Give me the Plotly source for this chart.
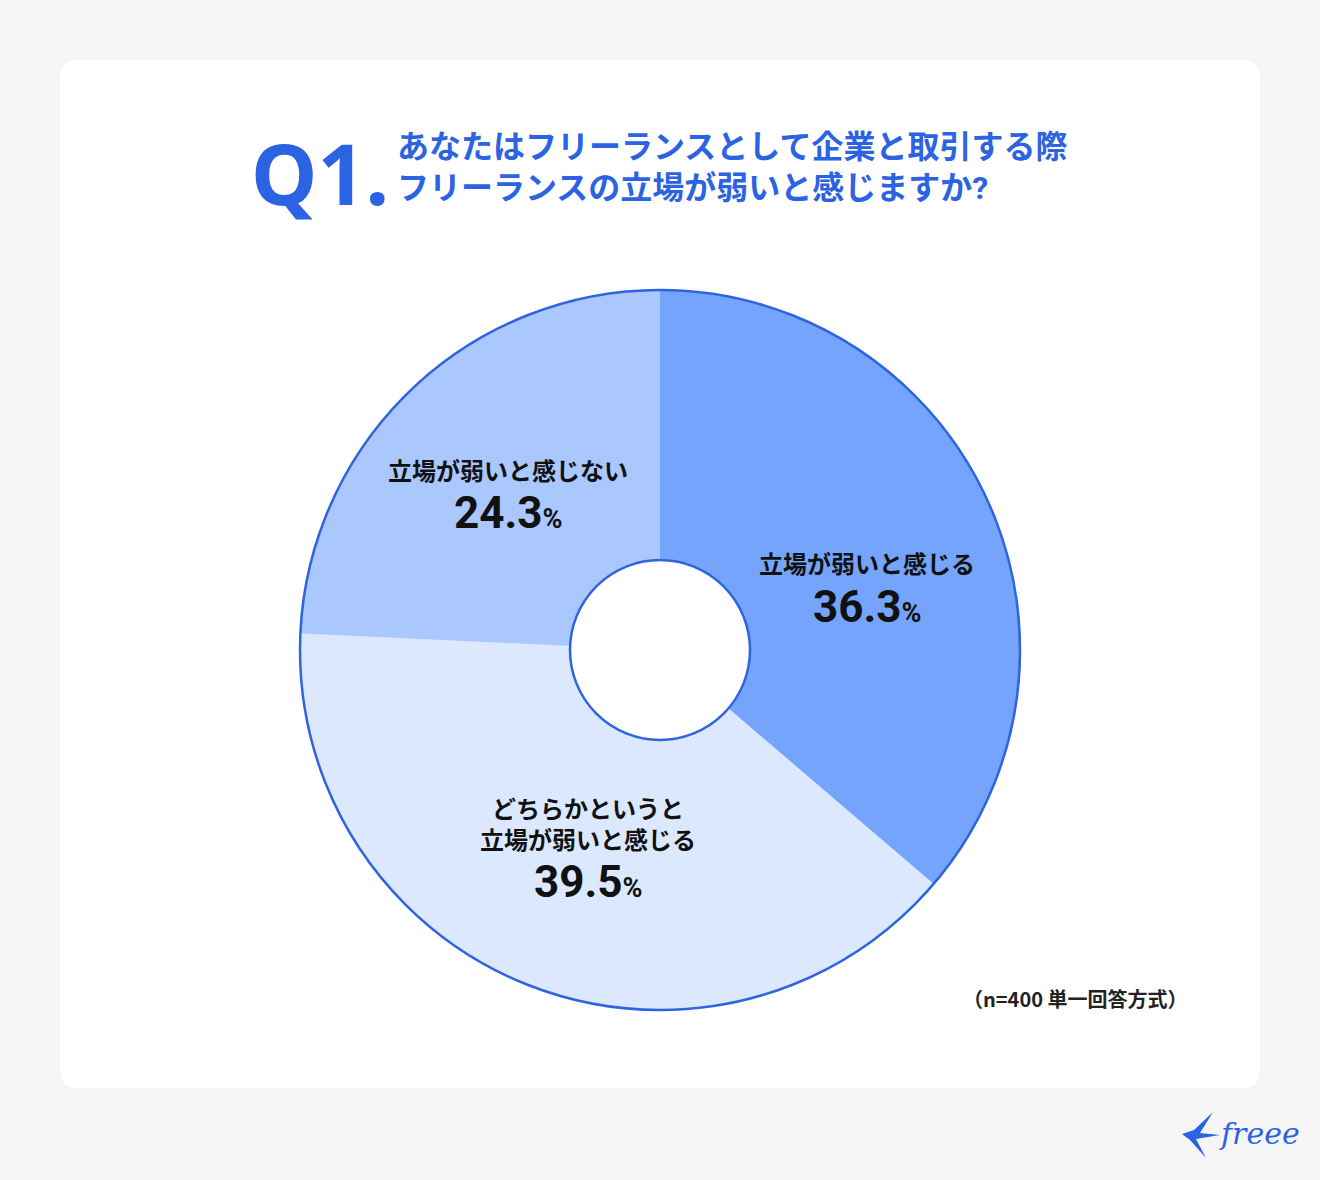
import plotly.graph_objects as go

W, H = 1320, 1180

labels = ["立場が弱いと感じる", "どちらかというと立場が弱いと感じる", "立場が弱いと感じない"]
values = [36.3, 39.5, 24.3]
colors = ["#74A4FC", "#DCE8FE", "#AAC7FE"]
label_lines = [["立場が弱いと感じる"], ["どちらかというと", "立場が弱いと感じる"], ["立場が弱いと感じない"]]
title_lines = ["あなたはフリーランスとして企業と取引する際", "フリーランスの立場が弱いと感じますか?"]
note = "（n=400 単一回答方式）"

BLUE = "#2B63E3"
OUTLINE = "#2F64E0"
FONT = "Noto Sans CJK JP"
TIGHT = "Roboto, 'Noto Sans CJK JP'"


def px(x, y):
    return x / W, 1 - y / H


cx, cy, R = 660, 650, 360
x0, y1 = px(cx - R, cy - R)
x1, y0 = px(cx + R, cy + R)

fig = go.Figure()
fig.add_trace(go.Pie(
    labels=labels, values=values, sort=False, direction="clockwise", rotation=0,
    hole=0.25, marker=dict(colors=colors, line=dict(width=0)),
    textinfo="none", hoverinfo="label+value", showlegend=False,
    domain=dict(x=[x0, x1], y=[y0, y1]),
))

shapes = []


def rounded_rect(l, t, r, b, rad):
    def P(x, y):
        a, c = px(x, y)
        return f"{a:.6f},{c:.6f}"
    return (f"M{P(l+rad,t)} L{P(r-rad,t)} Q{P(r,t)} {P(r,t+rad)} L{P(r,b-rad)} "
            f"Q{P(r,b)} {P(r-rad,b)} L{P(l+rad,b)} Q{P(l,b)} {P(l,b-rad)} "
            f"L{P(l,t+rad)} Q{P(l,t)} {P(l+rad,t)} Z")


shapes.append(dict(type="path", xref="paper", yref="paper", path=rounded_rect(60, 60, 1260, 1088, 18),
                   fillcolor="white", line=dict(width=0), layer="below"))
shapes.append(dict(type="circle", xref="paper", yref="paper", x0=x0, x1=x1, y0=y0, y1=y1,
                   line=dict(color=OUTLINE, width=2.5), layer="above"))
hr = R * 0.25
hx0, hy1 = px(cx - hr, cy - hr)
hx1, hy0 = px(cx + hr, cy + hr)
shapes.append(dict(type="circle", xref="paper", yref="paper", x0=hx0, x1=hx1, y0=hy0, y1=hy1,
                   line=dict(color=OUTLINE, width=2.5), layer="above"))


def poly(points):
    s = ""
    for i, (a, b) in enumerate(points):
        xa, yb = px(a, b)
        s += ("M" if i == 0 else "L") + f"{xa:.6f},{yb:.6f} "
    return s + "Z"


shapes.append(dict(type="path", xref="paper", yref="paper",
                   path=poly([(1182, 1134), (1194, 1130), (1213, 1112), (1200, 1133), (1220, 1135),
                              (1196, 1139), (1206, 1158), (1190, 1140)]),
                   fillcolor=BLUE, line=dict(width=0)))

annotations = []


def ann(x, y, text, size, color="#111111", anchor="center", family=FONT):
    a, b = px(x, y)
    annotations.append(dict(x=a, y=b, xref="paper", yref="paper", text=text, showarrow=False,
                            xanchor=anchor, yanchor="middle", borderpad=0,
                            font=dict(family=family, size=size, color=color)))


ann(250, 173, "<b>Q1.</b>", 84, BLUE, "left", "Noto Sans")
ann(396, 147, f"<b>{title_lines[0]}</b>", 32, BLUE, "left", TIGHT)
ann(396, 188, f"<b>{title_lines[1]}</b>", 32, BLUE, "left", TIGHT)

label_pos = [(867, 565, 607), (588, 810, 882), (508, 472, 513)]
for (lx, ly, py), lines, v in zip(label_pos, label_lines, values):
    for i, line in enumerate(lines):
        ann(lx, ly + i * 31, f"<b>{line}</b>", 24, family=TIGHT)
    ann(lx, py, f"<b>{v:.1f}<span style='font-size:27px'>%</span></b>", 44, family=TIGHT)

ann(1075, 998, f"<b>{note}</b>", 20, "#222222")
ann(1218, 1133, "<i>freee</i>", 30, BLUE, "left", "DejaVu Serif")

fig.update_layout(width=W, height=H, margin=dict(l=0, r=0, t=0, b=0),
                  paper_bgcolor="#F6F5F6", plot_bgcolor="#F6F5F6",
                  shapes=shapes, annotations=annotations)

fig.write_html("out.html")
